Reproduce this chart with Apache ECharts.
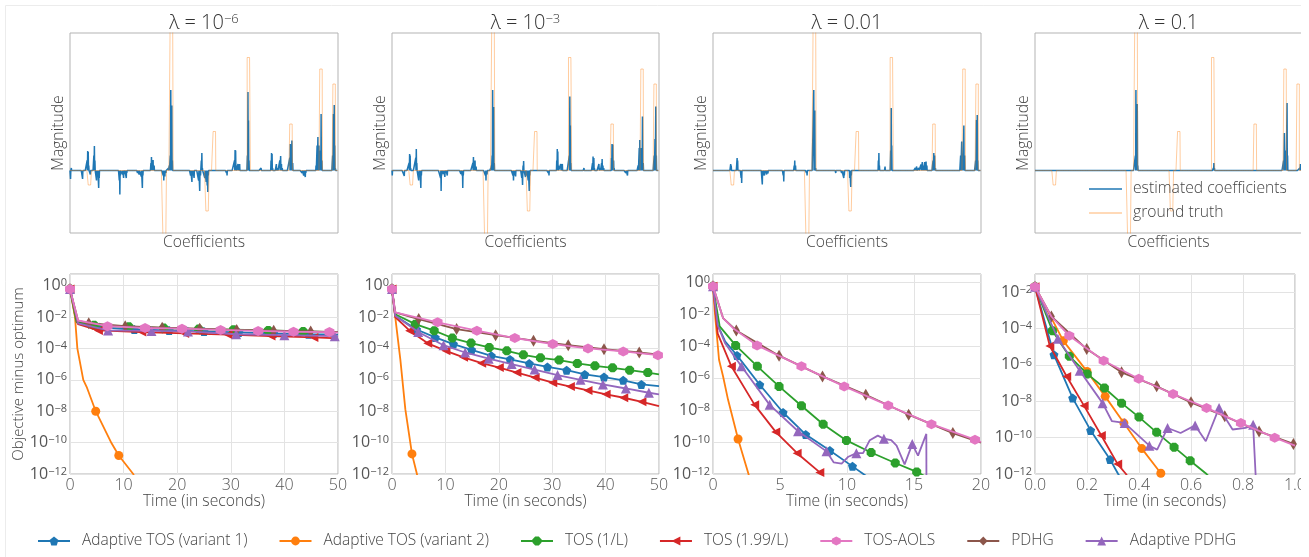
<!DOCTYPE html>
<html><head><meta charset="utf-8">
<script src="https://cdn.jsdelivr.net/npm/echarts@6/dist/echarts.min.js"></script>
<style>html,body{margin:0;padding:0;background:#fff}#c{width:1309px;height:557px}</style>
</head><body><div id="c"></div>
<script>
// ---------------- DATA ----------------
const coefCount = 1000;
const panelTitles = [['10','−6'],['10','−3'],['0.01',null],['0.1',null]];
// ground truth blocks: [startIndex, endIndex, value]
const truthBlocks = [[68,80,-0.29],[348,360,-1.6],[374,385,3.2],[507,519,-0.81],[534,544,0.78],[661,673,2.26],[820,830,0.93],[932,942,2.03],[981,990,1.73]];
// estimated coefficients: [index, value] (all other coefficients are zero)
const est1 = [[2,-0.17],[5,0.05],[47,-0.17],[64,0.2],[66,0.39],[68,0.37],[70,0.1],[76,-0.08],[89,0.3],[91,0.49],[93,0.2],[99,-0.2],[103,-0.1],[107,-0.35],[109,-0.15],[180,0.04],[184,-0.2],[186,-0.48],[188,-0.1],[196,-0.08],[200,-0.15],[204,-0.07],[210,-0.15],[212,-0.05],[252,-0.05],[258,-0.08],[266,-0.12],[270,-0.35],[272,-0.1],[302,0.15],[304,0.27],[306,0.12],[310,0.21],[314,0.1],[348,-0.1],[350,-0.2],[354,-0.12],[358,-0.05],[368,0.05],[370,0.1],[374,0.3],[376,1.61],[378,1.0],[380,1.3],[382,0.2],[450,-0.1],[455,-0.23],[458,-0.1],[463,-0.15],[480,-0.2],[484,-0.41],[487,-0.1],[490,0.2],[492,0.35],[494,0.05],[503,-0.15],[508,-0.23],[512,-0.3],[514,-0.43],[516,-0.1],[584,-0.05],[586,-0.1],[614,0.2],[616,0.41],[618,0.4],[620,0.1],[627,0.13],[630,0.12],[633,0.13],[635,0.03],[662,0.3],[664,1.57],[666,1.0],[668,0.2],[713,0.05],[715,0.03],[750,0.2],[752,0.35],[754,0.33],[756,0.05],[770,0.13],[775,0.05],[783,0.2],[786,0.29],[789,0.13],[792,0.05],[820,0.25],[822,0.53],[825,0.45],[828,0.6],[831,0.15],[866,-0.05],[872,-0.1],[878,-0.13],[880,-0.05],[918,0.1],[922,0.5],[925,0.67],[929,0.5],[935,0.4],[937,1.13],[940,0.2],[980,0.3],[983,1.13],[986,1.31],[988,0.5],[990,0.05]];
const est2 = [[1,-0.1],[46,-0.11],[64,0.15],[66,0.33],[68,0.3],[70,0.05],[89,0.25],[91,0.43],[93,0.15],[100,-0.2],[104,-0.1],[108,-0.35],[110,-0.1],[182,-0.15],[184,-0.41],[186,-0.1],[193,-0.07],[198,-0.13],[202,-0.05],[207,-0.1],[258,-0.07],[263,-0.1],[265,-0.35],[267,-0.1],[303,0.15],[305,0.27],[307,0.1],[311,0.2],[315,0.08],[350,-0.1],[352,-0.2],[356,-0.08],[370,0.05],[372,0.1],[375,0.3],[377,1.61],[379,0.9],[381,1.27],[383,0.15],[453,-0.1],[455,-0.2],[459,-0.1],[463,-0.12],[486,-0.15],[489,-0.29],[491,0.1],[493,0.19],[495,0.03],[500,-0.13],[505,-0.1],[510,-0.2],[514,-0.41],[516,-0.1],[586,-0.05],[588,-0.1],[617,0.2],[619,0.43],[621,0.38],[623,0.1],[632,0.13],[638,0.13],[640,0.03],[664,0.3],[666,1.48],[668,0.9],[670,0.15],[717,0.03],[719,0.05],[751,0.15],[753,0.28],[756,0.25],[758,0.05],[775,0.13],[780,0.05],[785,0.15],[787,0.23],[790,0.1],[793,0.05],[822,0.25],[824,0.53],[827,0.52],[830,0.2],[832,0.05],[876,-0.05],[882,-0.1],[884,-0.03],[922,0.1],[926,0.45],[928,0.61],[932,0.45],[936,0.3],[938,1.08],[941,0.15],[982,0.3],[985,0.63],[988,1.28],[990,0.3]];
const est3 = [[66,0.13],[68,0.1],[90,0.25],[92,0.2],[105,-0.15],[107,-0.25],[184,-0.28],[186,-0.1],[192,-0.1],[196,-0.05],[200,-0.08],[205,-0.06],[210,-0.03],[262,-0.1],[264,-0.22],[303,0.1],[305,0.2],[308,0.1],[349,-0.05],[351,-0.1],[376,1.61],[378,0.9],[380,1.2],[383,0.05],[458,-0.05],[480,-0.05],[488,-0.15],[490,-0.1],[510,-0.15],[514,-0.33],[516,-0.1],[585,-0.03],[617,0.2],[619,0.35],[621,0.1],[642,0.08],[663,0.4],[665,1.25],[667,0.5],[718,0.03],[755,0.05],[760,0.08],[768,0.05],[776,0.12],[781,0.17],[785,0.1],[790,0.17],[795,0.18],[798,0.1],[821,0.2],[824,0.35],[827,0.3],[830,0.05],[924,0.3],[928,0.58],[932,0.3],[936,0.9],[939,0.3],[980,0.2],[983,1.01],[986,1.11],[988,0.2]];
const est4 = [[376,0.3],[378,1.61],[380,1.3],[383,1.33],[385,0.1],[668,0.05],[670,0.15],[672,0.05],[931,0.2],[934,0.75],[937,0.4],[940,0.2],[944,1.35],[946,0.3],[992,0.05],[994,0.13],[996,0.1]];

const methodNames = ['Adaptive TOS (variant 1)','Adaptive TOS (variant 2)','TOS (1/L)','TOS (1.99/L)','TOS-AOLS','PDHG','Adaptive PDHG'];
const timeMax = [50, 50, 20, 1];
const timeStep = [10, 10, 5, 0.2];
const objTop = [5.5, 5.5, 3.2, 0.1];
const objBottom = 1e-12;

// objective minus optimum vs time; *_m = marked points, *_x = other curve points
// lambda = 1e-6
const p1_atos1_m = [[0,0.6],[5.5,2.2e-3],[12,1.6e-3],[18.5,1.4e-3],[25,1.2e-3],[31.5,1.05e-3],[38,9e-4],[44.5,8e-4]];
const p1_atos1_x = [[1.2,4.5e-3],[50,7.5e-4]];
const p1_atos2_m = [[0,0.6],[4.8,1e-8],[9.1,1.5e-11]];
const p1_atos2_x = [[0.93,1e-2],[1.37,1e-4],[2.48,1e-6],[3.1,3.6e-7],[7.76,9e-11],[11.8,1e-12],[13,1e-13]];
const p1_tos1_m = [[0,0.6],[4.5,3e-3],[11,2.4e-3],[17.5,2e-3],[24,1.7e-3],[30.5,1.55e-3],[37,1.4e-3],[43.5,1.2e-3]];
const p1_tos1_x = [[1.2,5e-3],[50,1.1e-3]];
const p1_tos199_m = [[0,0.6],[5.3,1.4e-3],[13.4,1.1e-3],[21.4,9e-4],[29.5,7.5e-4],[37.5,6.2e-4],[45.5,5e-4]];
const p1_tos199_x = [[1.5,3.5e-3],[50,4.3e-4]];
const p1_aols_m = [[0,0.6],[7,2.6e-3],[14,2e-3],[20.9,1.8e-3],[28.1,1.5e-3],[35.1,1.3e-3],[41.7,1.15e-3],[48.4,1.1e-3]];
const p1_aols_x = [[1.5,6e-3],[50,1e-3]];
const p1_pdhg_m = [[0,0.6],[3.5,4e-3],[10.3,2.6e-3],[17.2,2.1e-3],[24.2,1.8e-3],[31.1,1.5e-3],[38,1.35e-3],[44.9,1.2e-3]];
const p1_pdhg_x = [[1.5,6e-3],[50,1.1e-3]];
const p1_apdhg_m = [[0,0.6],[7.1,1.4e-3],[15.2,1.3e-3],[22,1.2e-3],[31,8e-4],[40,7e-4],[49.4,6e-4]];
const p1_apdhg_x = [[1.5,4e-3],[50,5.8e-4]];
// lambda = 1e-3
const p2_atos1_m = [[0,0.6],[4.6,1.6e-3],[8.1,5e-4],[11.5,1.9e-4],[14.9,8e-5],[18.6,3.4e-5],[22.1,2e-5],[25.7,1.1e-5],[29.1,6.6e-6],[32.7,4.1e-6],[36.1,2.2e-6],[39.7,1.5e-6],[43.3,9.3e-7],[46.7,5.1e-7]];
const p2_atos1_x = [[0.6,1.2e-2],[50,4e-7]];
const p2_atos2_m = [[0,0.6],[3.74,1.9e-11]];
const p2_atos2_x = [[0.8,2.8e-3],[1.56,2e-5],[2.5,1.3e-8],[4.67,1e-12],[5,2e-13]];
const p2_tos1_m = [[0,0.6],[4.36,3.5e-3],[7.9,1.35e-3],[11.3,4.6e-4],[14.8,2.2e-4],[18.2,1.15e-4],[21.5,7e-5],[24.6,3.9e-5],[27.8,2.5e-5],[31.3,1.8e-5],[34.7,1.1e-5],[38.0,7.8e-6],[41.3,5.8e-6],[44.5,4.1e-6],[47.9,2.9e-6]];
const p2_tos1_x = [[0.6,1.5e-2],[50,2.2e-6]];
const p2_tos199_m = [[0,0.6],[3.3,1.35e-3],[6.7,2.1e-4],[10.1,7e-5],[13.4,2.7e-5],[16.8,1.15e-5],[20.1,6e-6],[23.4,2.9e-6],[26.8,1.4e-6],[30.1,6.6e-7],[33.4,3.7e-7],[36.7,2.1e-7],[40.1,1.2e-7],[43.4,7.2e-8],[46.8,4e-8]];
const p2_tos199_x = [[0.6,1e-2],[50,2.1e-8]];
const p2_aols_m = [[0,0.6],[8.53,4.6e-3],[15.9,1.35e-3],[23.0,4.6e-4],[30.1,1.9e-4],[36.7,1e-4],[43.3,6.4e-5],[49.8,3.7e-5]];
const p2_aols_x = [[0.6,2e-2],[50,3.6e-5]];
const p2_pdhg_m = [[0,0.6],[5.0,7.4e-3],[12.1,1.7e-3],[19.4,7e-4],[26.5,3.1e-4],[33.0,1.6e-4],[39.7,9e-5],[46.3,5.5e-5]];
const p2_pdhg_x = [[0.6,2e-2],[50,4e-5]];
const p2_apdhg_m = [[0,0.6],[4.9,1.1e-3],[9.65,1.6e-4],[13.7,5.5e-5],[18.1,2.2e-5],[22.4,1e-5],[26.7,4.5e-6],[31.0,2e-6],[35.3,1e-6],[39.5,5.1e-7],[43.8,2.8e-7],[48.1,1.5e-7]];
const p2_apdhg_x = [[0.6,1.2e-2],[50,1.2e-7]];
// lambda = 0.01
const p3_atos1_m = [[0,0.54],[1.79,2.6e-5],[3.49,3.8e-7],[5.23,7e-9],[6.92,2.9e-10],[8.72,2.9e-11],[10.41,3e-12]];
const p3_atos1_x = [[0.35,2e-3],[0.9,2e-4],[11.6,6e-13]];
const p3_atos2_m = [[0,0.54],[1.87,1.55e-10]];
const p3_atos2_x = [[0.15,1e-2],[0.45,1.4e-5],[0.75,1.3e-6],[1.12,4.5e-8],[2.65,1e-12],[2.8,3e-13]];
const p3_tos1_m = [[0,0.54],[1.69,1.1e-4],[3.31,5.4e-6],[4.93,3e-7],[6.6,1.86e-8],[8.22,1.3e-9],[9.96,1.26e-10],[11.8,2.2e-11],[13.6,4.9e-12],[15.2,1.35e-12]];
const p3_tos1_x = [[0.5,1.7e-3],[16,6e-13]];
const p3_tos199_m = [[0,0.54],[1.37,5.4e-6],[3.11,2.1e-8],[4.68,4.3e-10],[6.28,2e-11],[7.97,1.26e-12]];
const p3_tos199_x = [[0.35,6e-4],[8.4,3e-13]];
const p3_aols_m = [[0,0.54],[3.29,1.1e-4],[6.6,5.4e-6],[9.79,3e-7],[13.07,1.95e-8],[16.3,1.3e-9],[19.55,1.4e-10]];
const p3_aols_x = [[0.75,5.6e-3],[1.5,1.3e-3],[20,1e-10]];
const p3_pdhg_m = [[0,0.54],[1.74,9.5e-4],[4.93,2.5e-5],[8.17,1.26e-6],[11.4,9e-8],[14.6,5.1e-9],[17.9,3.6e-10]];
const p3_pdhg_x = [[0.75,5.6e-3],[20,9e-11]];
const p3_apdhg_m = [[0,0.54],[2.12,5.4e-6],[4.23,2.1e-8],[6.35,4.7e-10],[8.47,2.6e-11],[10.7,2e-11],[12.75,1.6e-10],[14.87,7.4e-11]];
const p3_apdhg_x = [[0.35,2e-3],[0.9,1.5e-4],[9.0,5.4e-12],[9.6,4.5e-12],[10.1,1.2e-11],[11.2,2e-11],[11.7,1.3e-10],[12.3,2.5e-10],[13.3,1.3e-10],[13.7,6e-11],[14.3,4e-12],[15.3,1.4e-11],[15.92,3.2e-10],[15.93,1e-13]];
// lambda = 0.1
const p4_atos1_m = [[0,2e-2],[0.073,3.6e-6],[0.145,1.5e-8],[0.214,2.5e-10],[0.289,6.2e-12]];
const p4_atos1_x = [[0.32,1e-12],[0.33,6e-13]];
const p4_atos2_m = [[0,2e-2],[0.109,2.1e-5],[0.2,4.4e-7],[0.27,1.86e-8],[0.342,6.3e-10],[0.411,2.5e-11],[0.484,1.1e-12]];
const p4_atos2_x = [[0.5,5e-13]];
const p4_tos1_m = [[0,2e-2],[0.067,7.6e-5],[0.132,3e-6],[0.201,3.2e-7],[0.267,5.4e-8],[0.333,7.9e-9],[0.4,1.35e-9],[0.468,1.95e-10],[0.535,3e-11],[0.597,5.4e-12]];
const p4_tos1_x = [[0.66,1e-12],[0.68,5e-13]];
const p4_tos199_m = [[0,2e-2],[0.057,1.1e-5],[0.122,2.3e-7],[0.189,5.6e-9],[0.255,1.3e-10],[0.318,3.5e-12]];
const p4_tos199_x = [[0.35,1e-12],[0.36,6e-13]];
const p4_aols_m = [[0,2e-2],[0.132,4e-5],[0.264,1.7e-6],[0.399,1.74e-7],[0.531,2.5e-8],[0.66,4.3e-9],[0.792,6.3e-10],[0.922,1e-10]];
const p4_aols_x = [[0.063,4.6e-4],[1.0,3.6e-11]];
const p4_pdhg_m = [[0,2e-2],[0.063,4.6e-4],[0.199,7.4e-6],[0.333,3.9e-7],[0.468,6.6e-8],[0.6,8.7e-9],[0.73,1.5e-9],[0.862,2.2e-10],[0.994,4.5e-11]];
const p4_pdhg_x = [[1.0,4e-11]];
const p4_apdhg_m = [[0,2e-2],[0.088,2.75e-5],[0.172,4.8e-7],[0.26,7.9e-9],[0.345,6.3e-10],[0.44,3.6e-11],[0.51,3.4e-10],[0.616,4.7e-10],[0.708,4.3e-9],[0.839,5.1e-10]];
const p4_apdhg_x = [[0.296,8e-10],[0.33,7e-10],[0.47,2.2e-11],[0.56,1.8e-10],[0.657,6.3e-11],[0.76,2.8e-10],[0.81,3.4e-10],[0.852,1e-13]];

// ---------------- CHART ----------------
const estPanels = [est1, est2, est3, est4];
const markPanels = [
  [p1_atos1_m,p1_atos2_m,p1_tos1_m,p1_tos199_m,p1_aols_m,p1_pdhg_m,p1_apdhg_m],
  [p2_atos1_m,p2_atos2_m,p2_tos1_m,p2_tos199_m,p2_aols_m,p2_pdhg_m,p2_apdhg_m],
  [p3_atos1_m,p3_atos2_m,p3_tos1_m,p3_tos199_m,p3_aols_m,p3_pdhg_m,p3_apdhg_m],
  [p4_atos1_m,p4_atos2_m,p4_tos1_m,p4_tos199_m,p4_aols_m,p4_pdhg_m,p4_apdhg_m]];
const extraPanels = [
  [p1_atos1_x,p1_atos2_x,p1_tos1_x,p1_tos199_x,p1_aols_x,p1_pdhg_x,p1_apdhg_x],
  [p2_atos1_x,p2_atos2_x,p2_tos1_x,p2_tos199_x,p2_aols_x,p2_pdhg_x,p2_apdhg_x],
  [p3_atos1_x,p3_atos2_x,p3_tos1_x,p3_tos199_x,p3_aols_x,p3_pdhg_x,p3_apdhg_x],
  [p4_atos1_x,p4_atos2_x,p4_tos1_x,p4_tos199_x,p4_aols_x,p4_pdhg_x,p4_apdhg_x]];

const FONT = "'Open Sans', 'DejaVu Sans', sans-serif";
const TXT = '#444';
const styles = [
  {color:'#1f77b4', symbol:'path://M0,-1 L0.951,-0.309 L0.588,0.809 L-0.588,0.809 L-0.951,-0.309 Z', size:9, z:10},
  {color:'#ff7f0e', symbol:'circle', size:9, z:11},
  {color:'#2ca02c', symbol:'path://M-0.414,-1 L0.414,-1 L1,-0.414 L1,0.414 L0.414,1 L-0.414,1 L-1,0.414 L-1,-0.414 Z', size:9, z:12},
  {color:'#d62728', symbol:'path://M-1,0 L1,-1 L1,1 Z', size:9, z:13},
  {color:'#e377c2', symbol:'path://M0,-1 L0.866,-0.5 L0.866,0.5 L0,1 L-0.866,0.5 L-0.866,-0.5 Z', size:10, z:20},
  {color:'#8c564b', symbol:'diamond', size:[7,12], z:14},
  {color:'#9467bd', symbol:'triangle', size:10, z:15}
];
const L = [70, 392, 713, 1035];
const W = [268, 267, 268, 267];
const NAMEFS = 15.7;

const grids = [], xAxes = [], yAxes = [], series = [], titles = [];
const supRich = {
  b:{fontSize:16, color:'#555', fontFamily:FONT, lineHeight:16, verticalAlign:'bottom'},
  s:{fontSize:11, color:'#555', fontFamily:FONT, lineHeight:11, padding:[0,0,8,0], verticalAlign:'top'}
};
for (let p = 0; p < 4; p++) {
  grids.push({left:L[p], top:33, width:W[p], height:200, show:true, borderColor:'#b3b3b3', borderWidth:1, backgroundColor:'#fff'});
  xAxes.push({gridIndex:p, type:'value', min:0, max:coefCount, axisLine:{show:false}, axisTick:{show:false},
    axisLabel:{show:false}, splitLine:{show:false}, name:'Coefficients', nameLocation:'middle', nameGap:2,
    nameTextStyle:{fontSize:NAMEFS, color:TXT, fontFamily:FONT, fontWeight:300}});
  yAxes.push({gridIndex:p, type:'value', min:-1.25, max:2.75, axisLine:{show:false}, axisTick:{show:false},
    axisLabel:{show:false}, splitLine:{show:false}, name:'Magnitude', nameLocation:'middle', nameGap:3,
    nameTextStyle:{fontSize:NAMEFS, color:TXT, fontFamily:FONT, fontWeight:300}});
  const pt = panelTitles[p];
  titles.push({text: pt[1] ? '{b|λ = ' + pt[0] + '}{s|' + pt[1] + '}' : '{b|λ = ' + pt[0] + '}',
    left: L[p] + W[p] / 2, top: 23, textAlign:'center', textVerticalAlign:'middle', padding:0,
    textStyle:{rich:{
      b:{fontSize:20, color:'#333', fontFamily:FONT, fontWeight:300, lineHeight:20, verticalAlign:'bottom'},
      s:{fontSize:13, color:'#333', fontFamily:FONT, fontWeight:300, lineHeight:13, padding:[0,0,9,0], verticalAlign:'top'}}}});
}
for (let p = 0; p < 4; p++) {
  grids.push({left:L[p], top:274, width:W[p], height:200, show:true, borderColor:'#b3b3b3', borderWidth:1, backgroundColor:'#fff'});
  xAxes.push({gridIndex:4+p, type:'value', min:0, max:timeMax[p], interval:timeStep[p],
    axisLine:{show:false}, axisTick:{show:false},
    axisLabel:{fontSize:16, color:'#555', fontFamily:FONT, fontWeight:300, margin:3,
      formatter: v => p === 3 ? v.toFixed(1) : String(v)},
    splitLine:{show:true, lineStyle:{color:'#e3e3e3', width:1}},
    name:'Time (in seconds)', nameLocation:'middle', nameGap:20,
    nameTextStyle:{fontSize:NAMEFS, color:TXT, fontFamily:FONT, fontWeight:300}});
  yAxes.push({gridIndex:4+p, type:'value', min:Math.log10(objBottom), max:Math.log10(objTop[p]), interval:2,
    axisLine:{show:false}, axisTick:{show:false},
    axisLabel:{margin:3, showMaxLabel:false, rich:supRich,
      formatter: v => '{b|10}{s|' + (v < 0 ? '−' : '') + Math.abs(Math.round(v)) + '}'},
    splitLine:{show:true, lineStyle:{color:'#e3e3e3', width:1}},
    name: p === 0 ? 'Objective minus optimum' : '', nameLocation:'middle', nameGap:42,
    nameTextStyle:{fontSize:15, color:TXT, fontFamily:FONT, fontWeight:300}});
}

// top row series
const truth = new Array(coefCount).fill(0);
truthBlocks.forEach(([s, e, v]) => { for (let i = s; i < e; i++) truth[i] = v; });
for (let p = 0; p < 4; p++) {
  const est = new Array(coefCount).fill(0);
  estPanels[p].forEach(([i, v]) => { est[i] = v; });
  series.push({type:'line', name:'estimated coefficients', xAxisIndex:p, yAxisIndex:p, symbol:'none',
    color:'#1f77b4', lineStyle:{width:1.5, color:'#1f77b4'}, data: est.map((v, i) => [i, v]), z:2});
  series.push({type:'line', name:'ground truth', xAxisIndex:p, yAxisIndex:p, symbol:'none', step:'end',
    color:'rgba(255,127,14,0.4)', lineStyle:{width:1, color:'rgba(255,127,14,0.4)'}, data: truth.map((v, i) => [i, v]), z:3});
}
// bottom row series
for (let m = 0; m < methodNames.length; m++) {
  for (let p = 0; p < 4; p++) {
    const st = styles[m];
    const pts = markPanels[p][m].map(d => ({t:d[0], v:d[1], mk:true}))
      .concat(extraPanels[p][m].map(d => ({t:d[0], v:d[1], mk:false})));
    pts.sort((a, b) => a.t - b.t);
    const data = pts.map(o => o.mk ? {value:[o.t, Math.log10(o.v)]} : {value:[o.t, Math.log10(o.v)], symbol:'none'});
    series.push({type:'line', name:methodNames[m], xAxisIndex:4+p, yAxisIndex:4+p, data,
      symbol:st.symbol, symbolSize:st.size, showSymbol:true, color:st.color,
      itemStyle:{color:st.color}, lineStyle:{width:1.8, color:st.color}, z:st.z});
  }
}

const chart = echarts.init(document.getElementById('c'), null, {renderer:'canvas'});
chart.setOption({
  animation:false,
  backgroundColor:'#fff',
  title: titles,
  grid: grids, xAxis: xAxes, yAxis: yAxes, series,
  legend: [
    {data: methodNames, left:37, top:533, padding:0, itemWidth:32, itemHeight:11, itemGap:31, selectedMode:false,
      textStyle:{fontSize:15.5, color:TXT, fontFamily:FONT, fontWeight:300, padding:[0,0,0,7]}},
    {data:['estimated coefficients','ground truth'], orient:'vertical', left:1089, top:181, padding:0, icon:'rect',
      itemWidth:33, itemHeight:1.5, itemGap:8, selectedMode:false,
      textStyle:{fontSize:NAMEFS, color:TXT, fontFamily:FONT, fontWeight:300, padding:[0,0,0,6]}}
  ],
  graphic: [
    {type:'rect', z:-10, silent:true, shape:{x:5.5, y:5.5, width:1320, height:560}, style:{fill:'none', stroke:'#ececec', lineWidth:1}},
    {type:'rect', z:100, silent:true, shape:{x:1301, y:0, width:10, height:557}, style:{fill:'#fff'}}
  ]
});
</script></body></html>
